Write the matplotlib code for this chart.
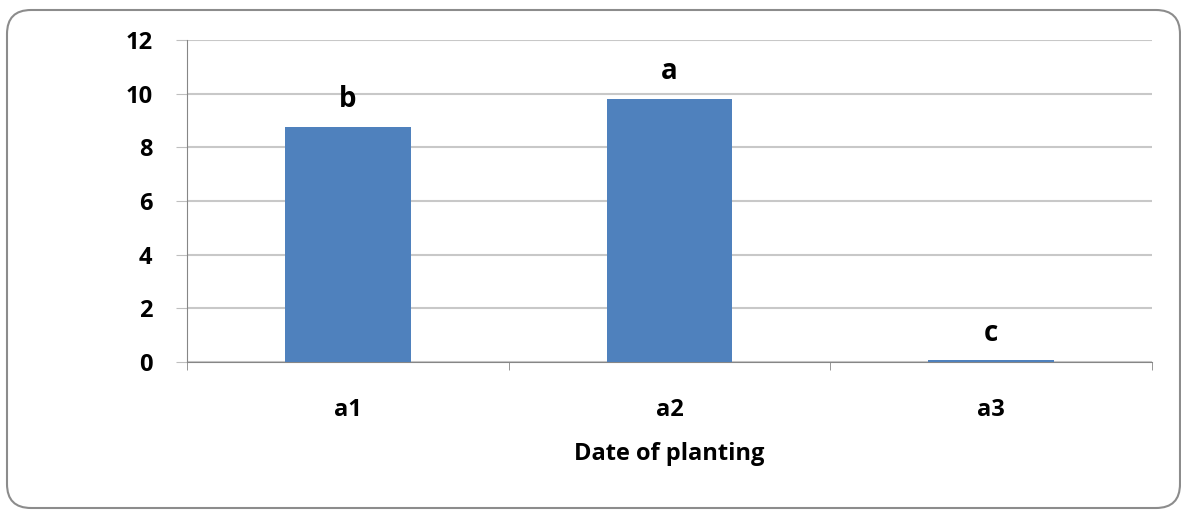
import matplotlib
matplotlib.use("Agg")
import matplotlib.pyplot as plt
from matplotlib.patches import FancyBboxPatch

categories = ["a1", "a2", "a3"]
values = [8.77, 9.81, 0.06]
letters = ["b", "a", "c"]
yticks = [0, 2, 4, 6, 8, 10, 12]

plt.rcParams['font.family'] = ['Open Sans', 'DejaVu Sans']

fig = plt.figure(figsize=(11.81, 5.11), dpi=100)
border = FancyBboxPatch((7, 3), 1173, 498, transform=None,
                        boxstyle="round,pad=0,rounding_size=24",
                        facecolor="none", edgecolor="#8c8c8c", linewidth=1.5, zorder=-1)
fig.patches.append(border)

ax = fig.add_axes([0.1583, 0.2916, 0.8172, 0.6301])
x = list(range(len(categories)))
ax.bar(x, values, width=0.39, color="#4f81bd", zorder=3)
for xi, v, l in zip(x, values, letters):
    ax.text(xi, v + 0.72, l, ha="center", va="baseline", fontsize=20, fontweight="bold")

ax.set_xlim(-0.5, 2.5)
ax.set_ylim(0, 12)
ax.set_yticks(yticks)
ax.set_yticklabels([str(t) for t in yticks], fontsize=17, fontweight="bold")
ax.set_xticks(x)
ax.set_xticklabels(categories, fontsize=17, fontweight="bold")
ax.tick_params(axis="x", length=0, pad=26)
ax.set_xticks([-0.5, 0.5, 1.5, 2.5], minor=True)
ax.tick_params(axis="x", which="minor", length=6, color="#868686", direction="out")
ax.tick_params(axis="y", length=8, color="#bfbfbf", pad=17)
ax.grid(axis="y", color="#c8c8c8", linewidth=1.5, zorder=0)
for s in ["top", "right"]:
    ax.spines[s].set_visible(False)
ax.spines["left"].set_color("#868686")
ax.spines["bottom"].set_color("#868686")
ax.set_xlabel("Date of planting", fontsize=17, fontweight="bold", labelpad=14)
ax.patch.set_alpha(0)

fig.savefig("out.png", dpi=100)
